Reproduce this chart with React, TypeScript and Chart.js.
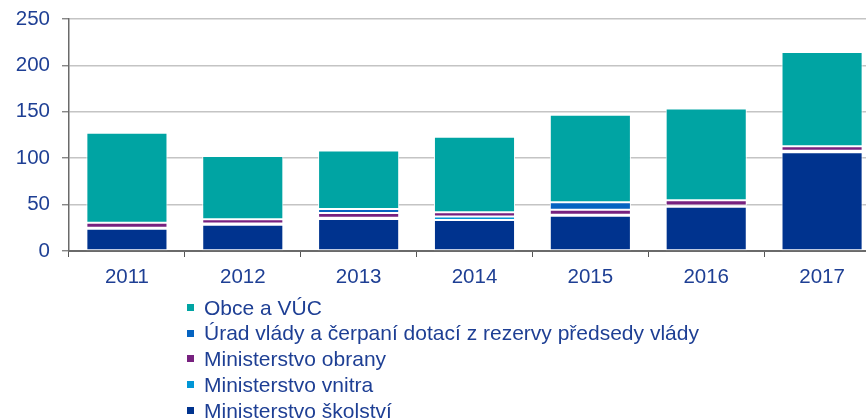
import React, { useEffect, useRef } from "react";
import { Chart, registerables } from "chart.js";

Chart.register(...registerables);

const years = ["2011", "2012", "2013", "2014", "2015", "2016", "2017"];
const skolstvi = [24, 28.3, 34.4, 33.4, 38, 47.7, 106.5];
const vnitra = [1, 1.3, 1.5, 3.8, 1, 1.4, 1.5];
const obrany = [5.5, 4.5, 5, 4.5, 5.5, 5.5, 5];
const uradVlady = [0, 0, 4.3, 0, 8, 0, 0];
const obce = [97, 68.4, 63, 81.3, 94.3, 99, 101.5];

const yTicks = [0, 50, 100, 150, 200, 250];

const seriesNames = [
  "Ministerstvo školství",
  "Ministerstvo vnitra",
  "Ministerstvo obrany",
  "Úrad vlády a čerpaní dotací z rezervy předsedy vlády",
  "Obce a VÚC",
];
const seriesColors = ["#00338E", "#0096D6", "#77217F", "#0563C1", "#00A4A3"];
const seriesData = [skolstvi, vnitra, obrany, uradVlady, obce];

const TEXT = "#1E3F94";
const FONT = "'Liberation Sans', Arial, sans-serif";

export default function App() {
  const ref = useRef<HTMLCanvasElement | null>(null);

  useEffect(() => {
    if (!ref.current) return;
    const chart = new Chart(ref.current, {
      type: "bar",
      data: {
        labels: years,
        datasets: seriesNames.map((name, i) => ({
          label: name,
          data: seriesData[i],
          backgroundColor: seriesColors[i],
          borderColor: "#ffffff",
          borderWidth: 1,
          borderSkipped: false,
          barPercentage: 0.875,
          categoryPercentage: 0.8,
        })),
      },
      options: {
        animation: false,
        responsive: false,
        devicePixelRatio: 1,
        layout: { padding: { left: 0, right: 4, top: 19, bottom: 127 } },
        plugins: { legend: { display: false }, tooltip: { enabled: false } },
        scales: {
          x: {
            stacked: true,
            offset: true,
            afterFit: (s: any) => {
              s.height = 40;
              s.paddingLeft = 0;
              s.paddingRight = 0;
            },
            grid: {
              offset: true,
              drawOnChartArea: false,
              drawTicks: true,
              tickLength: 6,
              tickColor: "#555555",
              tickWidth: 1,
            },
            border: { color: "#6a6a6a", width: 2 },
            ticks: {
              color: TEXT,
              font: { family: FONT, size: 20.5 },
              padding: 8,
              maxRotation: 0,
            },
          },
          y: {
            stacked: true,
            min: 0,
            max: 250,
            afterFit: (s: any) => {
              s.width = 69;
              s.paddingTop = 0;
              s.paddingBottom = 0;
            },
            afterBuildTicks: (s: any) => {
              s.ticks = yTicks.map((v) => ({ value: v }));
            },
            grid: {
              color: "#c4c4c4",
              lineWidth: 1.6,
              tickLength: 7,
              tickColor: "#555555",
              tickWidth: 1,
            },
            border: { color: "#6a6a6a", width: 1.5 },
            ticks: {
              color: TEXT,
              font: { family: FONT, size: 20.5 },
              padding: 12,
            },
          },
        },
      },
    });
    return () => chart.destroy();
  }, []);

  const legendOrder = [4, 3, 2, 1, 0];

  return (
    <div
      style={{
        position: "fixed",
        left: 0,
        top: 0,
        width: 866,
        height: 418,
        overflow: "hidden",
        background: "#ffffff",
      }}
    >
      <canvas ref={ref} width={884} height={418} style={{ position: "absolute", left: 0, top: 0 }} />
      <div
        style={{
          position: "absolute",
          left: 187,
          top: 294.5,
          fontFamily: FONT,
          fontSize: 21,
          color: TEXT,
          lineHeight: "25.8px",
          whiteSpace: "nowrap",
        }}
      >
        {legendOrder.map((i) => (
          <div key={i} style={{ display: "flex", alignItems: "center", height: 25.8 }}>
            <span
              style={{
                display: "inline-block",
                width: 7,
                height: 7,
                background: seriesColors[i],
                marginRight: 10,
              }}
            />
            <span>{seriesNames[i]}</span>
          </div>
        ))}
      </div>
    </div>
  );
}
